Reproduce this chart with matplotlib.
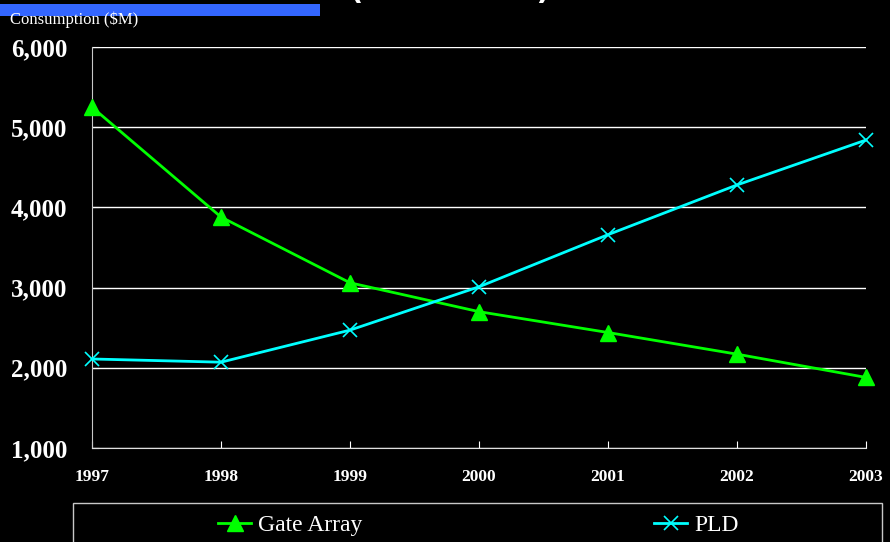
import matplotlib
matplotlib.use("Agg")
import matplotlib.pyplot as plt
from matplotlib.patches import Rectangle

years = ["1997", "1998", "1999", "2000", "2001", "2002", "2003"]
gate_array = [5250, 3880, 3060, 2700, 2440, 2170, 1880]
pld = [2110, 2070, 2470, 3010, 3660, 4280, 4840]
y_ticks = [1000, 2000, 3000, 4000, 5000, 6000]

fig = plt.figure(figsize=(8.9, 5.42), dpi=100, facecolor="black")
ax = fig.add_axes([92/890, 1-448/542, (866-92)/890, (448-47)/542])
ax.set_facecolor("black")

x = list(range(len(years)))
l1, = ax.plot(x, gate_array, color="#00ff00", lw=2, marker="^", ms=11,
              mfc="#00ff00", mec="#00ff00", label="Gate Array", clip_on=False, zorder=3)
l2, = ax.plot(x, pld, color="#00ffff", lw=2, marker="x", ms=10, mew=1.2,
              label="PLD", clip_on=False, zorder=3)

ax.set_xlim(0, len(years)-1)
ax.set_ylim(1000, 6000)
ax.set_xticks(x)
ax.set_xticklabels(years)
ax.set_yticks(y_ticks)
ax.set_yticklabels([f"{v:,}" for v in y_ticks])
ax.yaxis.grid(True, color="white", lw=1)
ax.set_axisbelow(True)
for s in ["top", "right"]:
    ax.spines[s].set_visible(False)
ax.spines["left"].set_color("#c8c8c8")
ax.spines["bottom"].set_color("#e0e0e0")
ax.tick_params(axis="y", direction="in", length=5, color="white", pad=18,
               labelcolor="white", labelsize=18)
ax.tick_params(axis="x", direction="in", length=5, color="white", pad=15,
               labelcolor="white", labelsize=12.5)
for t in ax.get_yticklabels():
    t.set_fontfamily("Liberation Serif"); t.set_fontweight("bold")
for t in ax.get_xticklabels():
    t.set_fontfamily("Liberation Serif"); t.set_fontweight("bold")

# header bar and cut-off title
fig.patches.append(Rectangle((0, 1-16/542), 320/890, 12/542, transform=fig.transFigure,
                             facecolor="#3366ff", edgecolor="none", zorder=0))
fig.text(450/890, 1.0, "(Worldwide)", color="white", fontsize=21, ha="center",
         va="baseline", fontfamily="DejaVu Sans", fontweight="bold")
fig.text(10/890, 1-20/542, "Consumption ($M)", color="white", fontsize=12,
         fontfamily="Liberation Serif", va="center", ha="left", zorder=5)

# legend box
fig.patches.append(Rectangle((73/890, -20/542), (882-73)/890, (542-503+20)/542,
                             transform=fig.transFigure, facecolor="black",
                             edgecolor="#c8c8c8", lw=1))
for h, xl in [(l1, 218/890), (l2, 654/890)]:
    fig.legend(handles=[h], loc="center left", bbox_to_anchor=(xl, 1-525/542),
               frameon=False, prop={"family": "Liberation Serif", "size": 17},
               labelcolor="white", borderpad=0, borderaxespad=0,
               handlelength=1.4, handletextpad=0.3, markerscale=1)

fig.savefig("out.png", dpi=100, facecolor="black")
